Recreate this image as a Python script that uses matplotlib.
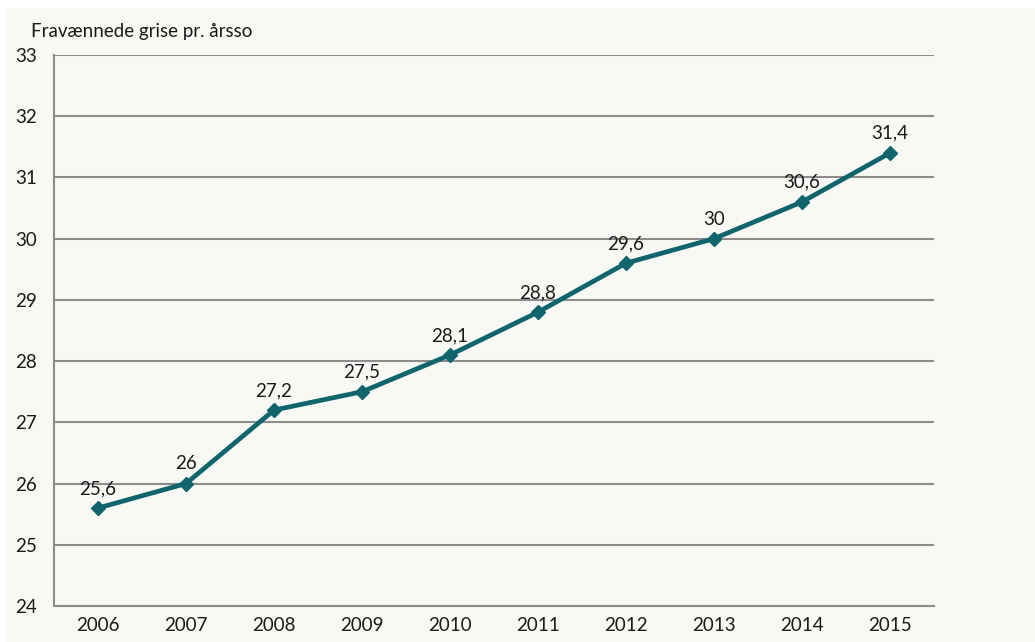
import matplotlib
matplotlib.use("Agg")
import matplotlib.pyplot as plt
from matplotlib.patches import Rectangle

years = ["2006", "2007", "2008", "2009", "2010", "2011", "2012", "2013", "2014", "2015"]
values = [25.6, 26, 27.2, 27.5, 28.1, 28.8, 29.6, 30, 30.6, 31.4]
labels = ["25,6", "26", "27,2", "27,5", "28,1", "28,8", "29,6", "30", "30,6", "31,4"]
yticks = [24, 25, 26, 27, 28, 29, 30, 31, 32, 33]
title = "Fravænnede grise pr. årsso"

plt.rcParams['font.family'] = ['Lato', 'DejaVu Sans']
FS = 13.5

W, H = 1035, 642
fig = plt.figure(figsize=(W / 100, H / 100), dpi=100, facecolor='white')
bg = '#f8f8f4'
fig.patches.append(Rectangle((6 / W, 0), 1 - 6 / W, 1 - 8 / H, transform=fig.transFigure,
                             facecolor=bg, edgecolor='none', zorder=-10))

left, right, top, bottom = 54, 934, 55, 606
ax = fig.add_axes([left / W, 1 - bottom / H, (right - left) / W, (bottom - top) / H])
ax.set_facecolor(bg)

x = list(range(len(years)))
line_color = '#10646c'
ax.plot(x, values, color=line_color, lw=3.4, marker='D', markersize=7,
        markeredgecolor=line_color, markerfacecolor=line_color, zorder=5)

for xi, v, lab in zip(x, values, labels):
    ax.annotate(lab, (xi, v), xytext=(0, 8), textcoords='offset points',
                ha='center', va='bottom', fontsize=FS, color='#1a1a1a')

ax.set_xlim(-0.5, len(years) - 0.5)
ax.set_ylim(24, 33)
ax.set_yticks(yticks)
ax.set_yticklabels([str(t) for t in yticks])
ax.set_xticks(x)
ax.set_xticklabels(years)
ax.yaxis.grid(True, color='#8c8c8c', lw=1.5)
ax.set_axisbelow(True)
for s in ['top', 'right']:
    ax.spines[s].set_visible(False)
for s in ['left', 'bottom']:
    ax.spines[s].set_color('#8c8c8c')
    ax.spines[s].set_linewidth(1.5)
ax.tick_params(axis='both', length=0, labelsize=FS, colors='#1a1a1a')
ax.tick_params(axis='y', pad=12)
ax.tick_params(axis='x', pad=8)

fig.text(31 / W, 1 - 32 / H, title, ha='left', va='center', fontsize=FS, color='#1a1a1a')

fig.savefig('out.png', dpi=100, facecolor='white')
